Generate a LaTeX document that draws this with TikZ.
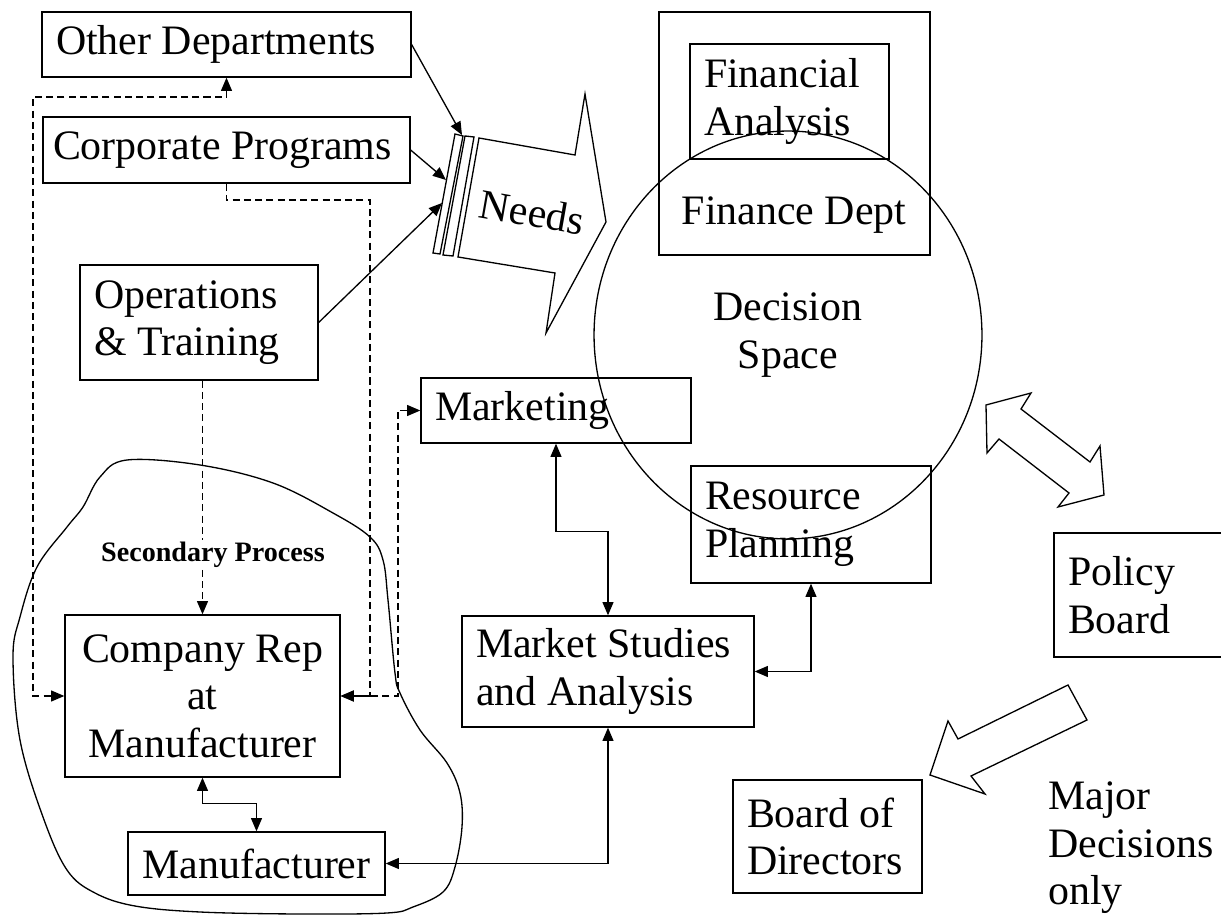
\documentclass[tikz,border=0pt]{standalone}
\usepackage{fontspec}
\setmainfont{Liberation Serif}
\usetikzlibrary{arrows.meta,shapes.geometric,calc}

\begin{document}
\begin{tikzpicture}[
  x=0.02cm, y=-0.02cm,
  font=\fontsize{23.85}{27}\selectfont,
  >={Triangle[length=7.5pt,width=6.2pt]},
  box/.style={draw,line width=0.75pt,inner ysep=0pt,inner xsep=0.28cm,align=flush left},
  cbox/.style={draw,line width=0.75pt,inner sep=0pt,align=center},
  flow/.style={line width=0.75pt},
  dflow/.style={line width=0.75pt,dash pattern=on 4pt off 2.4pt},
  shapeline/.style={line width=0.75pt,line join=miter},
]
\useasboundingbox (0,0) rectangle (1221,915);

% ---------- LEFT COLUMN ----------
\node[box,text width=6.82cm,minimum height=1.30cm] (othdep) at (226.5,44.5) {Other Departments};
\node[box,inner xsep=0.2cm,text width=6.94cm,minimum height=1.32cm] (corprog) at (226.5,150) {Corporate Programs};
\node[box,text width=4.20cm,minimum height=2.30cm] (opstrain) at (199,322.5) {Operations\\\& Training};

% ---------- SECONDARY PROCESS ----------
\draw[flow] plot[smooth cycle,tension=0.6] coordinates {
  (127,460) (200,465) (273,483) (333,513) (370,537) (383,560) (388,600)
  (395,673) (400,693) (420,730) (447,763) (460,793) (462,827) (455,867)
  (443,892) (413,907) (387,913) (300,914) (200,912) (135,906) (95,893)
  (67,870) (43,817) (20,740) (13,657) (20,617) (37,567) (67,527) (83,507) (100,477)};
\node[font=\fontsize{16}{18}\selectfont\bfseries,inner sep=1pt] (secproc) at (213,555) {Secondary Process};
\node[cbox,minimum width=5.50cm,minimum height=3.24cm] (comprep) at (202.5,696) {Company Rep\\at\\Manufacturer};
\node[cbox,minimum width=5.14cm,minimum height=1.26cm] (manuf) at (256.5,863.5) {Manufacturer};

% ---------- MIDDLE ----------
\node[box,text width=4.84cm,minimum height=1.30cm] (mktg) at (556,410.5) {Marketing};
\node[box,text width=5.28cm,minimum height=2.22cm] (mktstud) at (608,671.5) {Market Studies\\and Analysis};
\node[box,text width=4.24cm,minimum height=2.34cm] (respl) at (811,524.5) {Resource\\Planning};

% ---------- FINANCE / DECISION SPACE ----------
\node[cbox,minimum width=5.42cm,minimum height=4.86cm] (findept) at (794.5,133.5) {};
\node[box,text width=3.42cm,minimum height=2.30cm] (finan) at (789.5,101.5) {Financial\\Analysis};
\node (findeptlbl) at (794,215) {Finance Dept};
\node[ellipse,draw,line width=0.75pt,minimum width=7.76cm,minimum height=8.16cm,align=center] (decspace) at (788,335) {Decision\\Space};

% ---------- BOARDS ----------
\node[box,text width=2.84cm,minimum height=2.48cm] (polboard) at (1139,595) {Policy\\Board};
\node[box,text width=3.22cm,minimum height=2.26cm] (board) at (827.5,836.5) {Board of\\Directors};
\node[align=flush left,anchor=west,inner sep=0pt] (major) at (1048,848) {Major\\Decisions\\only};

% ---------- NEEDS ARROW ----------
\draw[shapeline] (479,138) -- (575,155) -- (585,94) -- (606,222) -- (546,333) -- (555,273) -- (458,257) -- cycle;
\draw[shapeline] (433,253) -- (440,254) -- (463,136) -- (455,134) -- cycle;
\draw[shapeline] (443,255) -- (453,256) -- (474,137) -- (465,136) -- cycle;
\node[rotate=-10,inner sep=0pt] (needs) at (532,212) {Needs};
\coordinate (needsA) at (462,135);
\coordinate (needsB) at (446,180);
\coordinate (needsC) at (442,203);

% ---------- BLOCK ARROWS ----------
\draw[shapeline] (986,405) -- (1031,393) -- (1021,409) -- (1090,462) -- (1100,446) -- (1104,495)
  -- (1058,507) -- (1069,493) -- (999,439) -- (987,453) -- cycle;
\draw[shapeline] (1068,685) -- (1087,720) -- (971,776) -- (985,794) -- (930,775) -- (948,721) -- (958,739) -- cycle;

% ---------- SOLID ARROWS ----------
\draw[flow,->] (othdep.east) -- (needsA);
\draw[flow,->] (corprog.east) -- (needsB);
\draw[flow,->] (opstrain.east) -- (needsC);
\draw[flow,<->] (comprep.south) -- ++(0,26) -| (manuf.north);
\draw[flow,<->] (mktstud.south) |- (manuf.east);
\draw[flow,<->] (mktg.south) -- ++(0,88) -| (mktstud.north);
\draw[flow,<->] (mktstud.east) -| (respl.south);

% ---------- DASHED ARROWS ----------
\draw[dflow,<->] (othdep.south) |- (33,97) |- (comprep.west);
\draw[dflow,->] (corprog.south) |- (370,200) |- (comprep.east);
\draw[dflow,<->] (mktg.west) -| (398,696) -- (comprep.east);
\draw[dflow] (opstrain.south -| comprep.north) -- (secproc.north -| comprep.north);
\draw[dflow,->] (secproc.south -| comprep.north) -- (comprep.north);

\end{tikzpicture}
\end{document}
